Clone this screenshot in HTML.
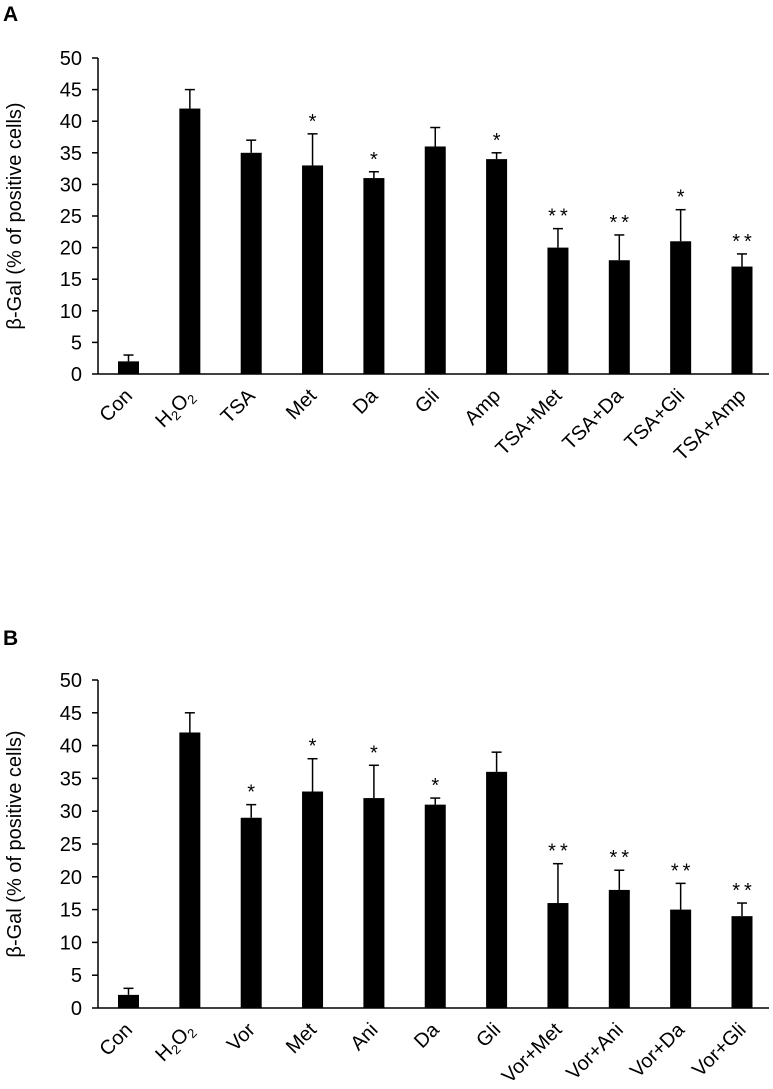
<!DOCTYPE html>
<html><head><meta charset="utf-8"><style>
html,body{margin:0;padding:0;background:#fff;}
svg{display:block;font-family:"Liberation Sans",Arial,sans-serif;}
</style></head><body>
<svg id="fig" width="773" height="1089" viewBox="0 0 773 1089">
<text x="3" y="21" font-size="21" font-weight="bold">A</text>
<text x="3" y="645" font-size="21" font-weight="bold">B</text>
</svg>
<script>
const catsA = ["Con","H2O2","TSA","Met","Da","Gli","Amp","TSA+Met","TSA+Da","TSA+Gli","TSA+Amp"];
const valsA = [2,42,35,33,31,36,34,20,18,21,17];
const errA  = [1,3,2,5,1,3,1,3,4,5,2];
const sigA  = ["","","","*","*","","*","**","**","*","**"];
const catsB = ["Con","H2O2","Vor","Met","Ani","Da","Gli","Vor+Met","Vor+Ani","Vor+Da","Vor+Gli"];
const valsB = [2,42,29,33,32,31,36,16,18,15,14];
const errB  = [1,3,2,5,5,1,3,6,3,4,2];
const sigB  = ["","","*","*","*","*","","**","**","**","**"];
const yTicks = [0,5,10,15,20,25,30,35,40,45,50];

const svg = document.getElementById('fig');
const NS = "http://www.w3.org/2000/svg";
function mk(tag, attrs, parent){
  const e = document.createElementNS(NS, tag);
  for (const k in attrs) e.setAttribute(k, attrs[k]);
  (parent||svg).appendChild(e);
  return e;
}
function panel(id, cats, vals, errs, sigs, y0, y50){
  const g = mk('g', {});
  
  
  const ax = 98, axEnd = 769;
  const y = v => y0 + (y50 - y0) * v / 50;
  const x = i => 128.5 + i * 61.35;
  const yl = mk('line', {x1:ax, y1:y(50), x2:ax, y2:y0, stroke:'#000','stroke-width':1.5}, g);
  
  
  const xl = mk('line', {x1:ax, y1:y0, x2:axEnd, y2:y0, stroke:'#000','stroke-width':1.5}, g);
  
  
  yTicks.forEach(t => {
    const tk = mk('line', {x1:ax-6, y1:y(t), x2:ax, y2:y(t), stroke:'#000','stroke-width':1.5}, g);
    
    
    const tl = mk('text', {x:ax-16, y:y(t)+7, 'font-size':20, 'text-anchor':'end'}, g);
    tl.textContent = t;
    
    
  });
  const cy = (y0 + y50) / 2;
  const tt = mk('text', {x:0, y:0, 'font-size':20, 'text-anchor':'middle', transform:`translate(21,${cy}) rotate(-90)`}, g);
  tt.textContent = "β-Gal (% of positive cells)";
  
  
  cats.forEach((c, i) => {
    const cx = x(i);
    const top = y(vals[i]);
    const etop = y(vals[i] + errs[i]);
    const eb = mk('line', {x1:cx, y1:top, x2:cx, y2:etop, stroke:'#000','stroke-width':1.5}, g);
    
    
    const cap = mk('line', {x1:cx-5, y1:etop, x2:cx+5, y2:etop, stroke:'#000','stroke-width':1.5}, g);
    
    
    const r = mk('rect', {x:cx-10.5, y:top, width:21, height:y0-top, fill:'#000'}, g);
    
    
    if (sigs[i]) {
      const s = mk('text', {x:cx, y:etop+2, 'font-size':20, 'text-anchor':'middle', 'dominant-baseline':'auto'}, g);
      s.setAttribute('transform', `translate(0,-8)`);
      s.textContent = sigs[i].split('').join('\u2009');
      
      
    }
    const lx = cx + 5, ly = y0 + 23;
    const lab = mk('text', {x:0, y:0, 'font-size':20, 'text-anchor':'end', transform:`translate(${lx},${ly}) rotate(-45)`}, g);
    if (c === 'H2O2') {
      lab.innerHTML = 'H<tspan font-size="13" dy="4">2</tspan><tspan dy="-4">O</tspan><tspan font-size="13" dy="4">2</tspan>';
    } else {
      lab.textContent = c;
    }
    
    
  });
}
panel('panel-a', catsA, valsA, errA, sigA, 374, 58);
panel('panel-b', catsB, valsB, errB, sigB, 1008, 680);
</script>
</body></html>
